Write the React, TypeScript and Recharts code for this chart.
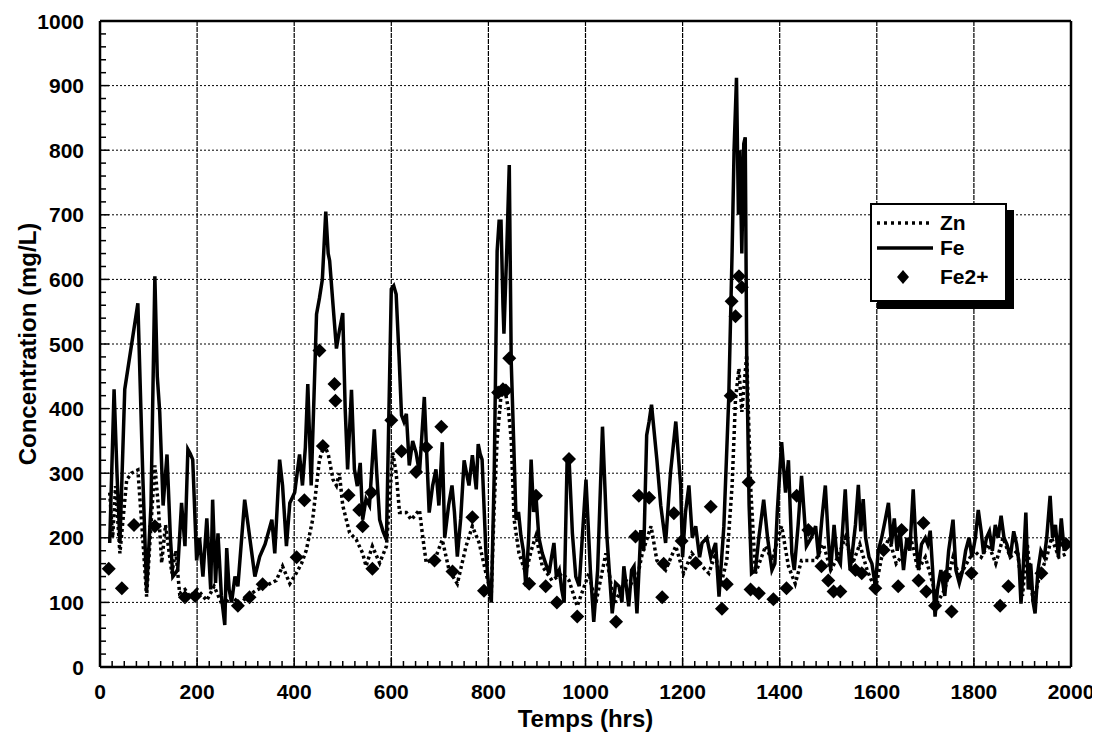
import React from 'react';
import {
  ComposedChart, Line, Scatter, XAxis, YAxis, CartesianGrid, ReferenceLine, Legend, Label,
} from 'recharts';

// ---- Data ----
const feHours = [20,29,35,41,51,78,88,96,105,113,118,123,130,138,145,150,160,168,175,181,186,191,199,205,212,220,228,232,238,243,250,257,261,266,271,278,284,298,305,312,319,329,340,354,360,370,376,384,391,401,411,417,423,428,435,440,446,452,458,465,470,473,480,487,493,500,505,510,518,524,530,536,541,548,555,565,570,576,583,590,600,605,610,616,621,626,631,637,644,651,658,668,673,678,685,692,698,705,710,718,725,730,736,743,750,755,760,767,775,779,783,787,795,800,806,812,818,822,826,830,832,838,843,847,852,857,862,867,872,877,883,888,893,898,904,911,918,925,930,935,940,946,951,956,962,966,973,980,987,1001,1010,1017,1025,1035,1044,1055,1062,1069,1075,1079,1089,1095,1100,1106,1114,1120,1126,1131,1136,1147,1155,1165,1175,1186,1191,1196,1200,1206,1213,1220,1227,1235,1240,1250,1258,1268,1275,1285,1295,1302,1306,1311,1315,1318,1322,1326,1329,1332,1337,1342,1350,1357,1367,1375,1384,1390,1395,1404,1412,1418,1425,1430,1438,1445,1455,1465,1474,1480,1487,1494,1500,1505,1512,1518,1525,1535,1540,1545,1550,1556,1562,1567,1572,1577,1584,1590,1597,1603,1610,1618,1624,1630,1636,1642,1648,1655,1662,1668,1675,1680,1686,1692,1700,1705,1710,1715,1720,1725,1732,1740,1748,1757,1763,1770,1777,1783,1790,1796,1803,1809,1815,1820,1826,1832,1838,1844,1850,1856,1862,1868,1875,1882,1888,1893,1897,1902,1907,1912,1917,1922,1926,1932,1938,1945,1950,1957,1962,1968,1974,1980,1986,1990];
const feValues = [192,430,300,192,430,563,300,118,250,605,450,395,250,329,200,140,150,254,187,337,330,321,165,200,140,230,120,259,130,207,110,65,184,120,100,140,125,259,220,180,140,171,190,228,176,321,281,187,254,270,329,281,340,438,281,400,546,571,600,705,640,629,560,493,520,548,400,306,429,306,280,316,228,260,250,368,300,228,210,197,585,590,577,480,390,380,392,312,350,332,300,418,330,239,280,306,250,348,200,250,281,240,171,230,320,300,281,328,275,345,330,321,176,130,100,300,644,690,690,560,516,650,777,473,350,228,240,203,180,125,200,321,240,265,200,176,160,145,170,192,140,150,120,100,316,325,207,140,125,290,150,70,150,372,203,83,130,125,100,156,94,150,156,83,212,180,359,380,406,321,250,192,300,380,330,281,170,240,281,200,218,170,192,200,170,192,109,218,415,644,800,912,700,800,640,810,820,483,250,145,150,200,259,200,150,160,240,348,270,320,176,150,220,296,187,200,218,170,230,281,200,150,220,170,160,275,200,150,180,220,282,210,260,200,170,160,125,180,200,230,254,190,230,180,210,150,200,180,275,200,150,190,200,190,211,150,78,120,150,110,180,228,150,130,150,180,200,170,200,243,210,175,200,210,180,220,200,234,200,190,170,210,190,160,98,160,239,120,160,100,83,150,180,170,200,265,200,220,170,230,180,190];

const znHours = [20,26,32,41,55,65,78,88,96,105,113,120,127,135,148,156,164,175,185,200,220,235,253,270,288,305,322,340,363,376,391,404,415,425,438,452,462,470,480,487,493,500,514,528,541,548,561,576,590,603,610,617,631,641,658,665,672,692,705,719,736,754,767,781,795,806,812,818,826,836,841,847,853,863,877,888,898,911,931,952,966,983,987,1007,1021,1042,1059,1083,1103,1117,1135,1147,1165,1186,1202,1219,1240,1254,1268,1278,1291,1302,1309,1316,1322,1332,1340,1350,1371,1384,1404,1418,1432,1445,1474,1490,1505,1520,1535,1550,1565,1580,1597,1610,1625,1640,1655,1670,1685,1700,1715,1725,1740,1757,1770,1785,1800,1815,1830,1845,1860,1875,1890,1900,1910,1922,1935,1950,1960,1975,1990];
const znValues = [270,200,280,176,290,300,305,200,109,220,312,250,161,220,145,180,114,120,109,120,103,125,94,110,98,110,119,125,134,156,129,145,160,181,228,321,343,330,290,281,300,250,208,197,176,156,187,161,187,332,300,239,239,228,243,200,161,171,197,150,129,187,218,192,145,114,250,352,421,421,400,352,228,176,145,180,203,156,134,145,134,94,103,145,98,176,98,134,125,176,218,165,150,187,145,176,156,145,176,125,165,281,415,462,395,483,281,145,187,165,218,156,129,165,165,190,150,170,200,160,190,150,120,170,200,160,175,200,150,170,130,100,120,170,140,160,180,170,190,160,200,170,180,110,190,100,140,170,200,170,175];

const fe2Hours = [18,45,70,113,175,196,284,308,335,405,421,452,459,483,485,512,534,541,559,561,600,621,651,672,689,703,726,767,791,820,830,836,843,884,898,918,941,966,983,1063,1103,1110,1131,1158,1161,1182,1198,1227,1258,1281,1291,1299,1301,1309,1316,1322,1336,1340,1357,1387,1414,1435,1459,1486,1500,1511,1525,1556,1569,1597,1614,1644,1651,1686,1696,1702,1720,1741,1754,1795,1854,1871,1939,1990];
const fe2Values = [152,122,220,218,108,110,95,108,128,170,258,490,342,438,412,266,243,218,270,152,382,334,302,340,165,372,148,232,118,425,430,428,478,129,265,125,100,322,78,70,202,265,262,108,160,238,195,161,248,90,128,420,566,543,605,588,286,120,114,105,122,265,212,156,134,117,117,150,145,122,181,125,212,134,223,117,95,140,86,145,95,125,145,190];

const xTicks = Array.from({ length: 81 }, (_, i) => i * 25);
const yTicks = Array.from({ length: 51 }, (_, i) => i * 20);
const xGrid = [200, 400, 600, 800, 1000, 1200, 1400, 1600, 1800];
const yGrid = [100, 200, 300, 400, 500, 600, 700, 800, 900];

const feData = feHours.map((hr, i) => ({ hr, v: feValues[i] }));
const znData = znHours.map((hr, i) => ({ hr, v: znValues[i] }));
const fe2Data = fe2Hours.map((hr, i) => ({ hr, v: fe2Values[i] }));

const FONT = '"Liberation Sans", Arial, Helvetica, sans-serif';

const XTick = (props: any) => {
  const { x, y, payload } = props;
  const major = payload.value % 200 === 0;
  return (
    <g>
      <line x1={x} x2={x} y1={y} y2={y - (major ? 9 : 6)} stroke="#000" strokeWidth={1.5} />
      {major && (
        <text x={x} y={y + 32} textAnchor="middle" fontFamily={FONT} fontWeight="bold" fontSize={21} fill="#000">
          {payload.value}
        </text>
      )}
    </g>
  );
};

const YTick = (props: any) => {
  const { x, y, payload } = props;
  const major = payload.value % 100 === 0;
  return (
    <g>
      <line x1={x} x2={x + (major ? 9 : 6)} y1={y} y2={y} stroke="#000" strokeWidth={1.5} />
      {major && (
        <text x={x - 16} y={y + 7.5} textAnchor="end" fontFamily={FONT} fontWeight="bold" fontSize={21} fill="#000">
          {payload.value}
        </text>
      )}
    </g>
  );
};

const Diamond = (props: any) => {
  const { cx, cy } = props;
  if (cx == null || cy == null) return null;
  const r = 7;
  return <polygon points={`${cx},${cy - r} ${cx + r},${cy} ${cx},${cy + r} ${cx - r},${cy}`} fill="#000" />;
};

const LegendBox = () => (
  <div
    style={{
      width: 133,
      height: 95,
      border: '2px solid #000',
      background: '#fff',
      boxShadow: '7px 7px 0 #000',
    }}
  >
    <svg width={133} height={95} style={{ display: 'block' }}>
      <line x1={5} x2={61} y1={18} y2={18} stroke="#000" strokeWidth={3.5} strokeDasharray="3 4" />
      <text x={68} y={25} fontFamily={FONT} fontWeight="bold" fontSize={21} fill="#000">Zn</text>
      <line x1={5} x2={61} y1={43} y2={43} stroke="#000" strokeWidth={3.5} />
      <text x={68} y={50} fontFamily={FONT} fontWeight="bold" fontSize={21} fill="#000">Fe</text>
      <polygon points="31,65 37,72 31,79 25,72" fill="#000" />
      <text x={68} y={79} fontFamily={FONT} fontWeight="bold" fontSize={21} fill="#000">Fe2+</text>
    </svg>
  </div>
);

export default function App() {
  return (
    <div style={{ width: 1092, height: 727 }}>
      <ComposedChart width={1092} height={727} margin={{ top: 13, right: 29, left: 0, bottom: 0 }}>
        <CartesianGrid horizontal={true} vertical={false} horizontalValues={yGrid} stroke="#000" strokeDasharray="2 2" strokeWidth={1} />
        <CartesianGrid horizontal={false} vertical={true} verticalValues={xGrid} stroke="#000" strokeDasharray="5 1" strokeWidth={1.2} />
        <XAxis
          dataKey="hr"
          type="number"
          domain={[0, 2000]}
          ticks={xTicks}
          interval={0}
          allowDataOverflow
          height={68}
          tickSize={0}
          tickMargin={0}
          tickLine={false}
          tick={<XTick />}
          axisLine={{ stroke: '#000', strokeWidth: 2.5 }}
        >
          <Label
            content={(p: any) => {
              const vb = p.viewBox || {};
              return (
                <text x={vb.x + vb.width / 2} y={vb.y + 60} textAnchor="middle" fontFamily={FONT} fontWeight="bold" fontSize={24} fill="#000">
                  Temps (hrs)
                </text>
              );
            }}
          />
        </XAxis>
        <YAxis
          type="number"
          domain={[0, 1000]}
          ticks={yTicks}
          interval={0}
          allowDataOverflow
          width={92}
          tickSize={0}
          tickMargin={0}
          tickLine={false}
          tick={<YTick />}
          axisLine={{ stroke: '#000', strokeWidth: 2.5 }}
        >
          <Label
            content={(p: any) => {
              const vb = p.viewBox || {};
              const cx = vb.x + 19;
              const cy = vb.y + vb.height / 2;
              return (
                <text x={cx} y={cy} transform={`rotate(-90 ${cx} ${cy})`} textAnchor="middle" dominantBaseline="central" fontFamily={FONT} fontWeight="bold" fontSize={24} fill="#000">
                  Concentration (mg/L)
                </text>
              );
            }}
          />
        </YAxis>
        <ReferenceLine y={1000} stroke="#000" strokeWidth={2.5} />
        <ReferenceLine x={2000} stroke="#000" strokeWidth={2.5} />
        <Line data={znData} dataKey="v" type="linear" stroke="#000" strokeWidth={3.5} strokeDasharray="3 3" dot={false} isAnimationActive={false} />
        <Line data={feData} dataKey="v" type="linear" stroke="#000" strokeWidth={3.5} dot={false} isAnimationActive={false} />
        <Scatter data={fe2Data} dataKey="v" shape={<Diamond />} isAnimationActive={false} />
        <Legend
          layout="vertical"
          align="center"
          verticalAlign="middle"
          wrapperStyle={{ left: 862, top: 195, width: 137 }}
          content={() => <LegendBox />}
        />
      </ComposedChart>
    </div>
  );
}
